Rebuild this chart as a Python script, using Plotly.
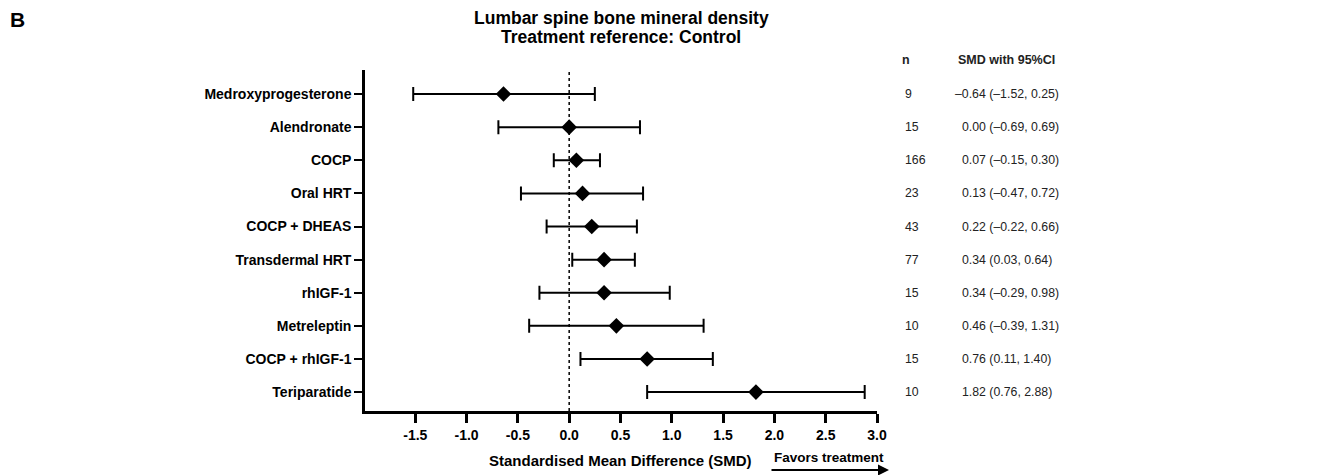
import plotly.graph_objects as go

treatments = ["Medroxyprogesterone", "Alendronate", "COCP", "Oral HRT", "COCP + DHEAS",
              "Transdermal HRT", "rhIGF-1", "Metreleptin", "COCP + rhIGF-1", "Teriparatide"]
smd = [-0.64, 0.00, 0.07, 0.13, 0.22, 0.34, 0.34, 0.46, 0.76, 1.82]
lower = [-1.52, -0.69, -0.15, -0.47, -0.22, 0.03, -0.29, -0.39, 0.11, 0.76]
upper = [0.25, 0.69, 0.30, 0.72, 0.66, 0.64, 0.98, 1.31, 1.40, 2.88]
n_vals = [9, 15, 166, 23, 43, 77, 15, 10, 15, 10]
xticks = [-1.5, -1.0, -0.5, 0.0, 0.5, 1.0, 1.5, 2.0, 2.5, 3.0]

FONT = "Liberation Sans, Arial, sans-serif"
OFF = 8  # page body margin
PL, PR, PT, PB = 365, 877, 70, 411  # plot area in page pixels
W, H = 1344 - OFF, 475 - OFF
L, T = PL - OFF, PT - OFF
R = W - (PR - OFF)
B = H - (PB - OFF)


def px(xp):
    return (xp - PL) / (PR - PL)


def py(yp):
    return (PB - yp) / (PB - PT)


ypos = list(range(len(treatments)))

fig = go.Figure()
fig.add_shape(type="line", xref="x", yref="paper", x0=0, x1=0, y0=0, y1=1,
              line=dict(color="black", width=1.5, dash="dot"), layer="below")
fig.add_trace(go.Scatter(
    x=smd, y=ypos, mode="markers",
    marker=dict(symbol="diamond", size=12, color="black"),
    error_x=dict(type="data", symmetric=False,
                 array=[u - s for u, s in zip(upper, smd)],
                 arrayminus=[s - l for s, l in zip(smd, lower)],
                 color="black", thickness=2, width=7),
    showlegend=False, hoverinfo="skip"))

annotations = []
VS = 12.3
dash_w = 0.556 * VS
fmt = lambda v: ("–" if v < 0 else "") + f"{abs(v):.2f}"
for i, (s, lo, up, n) in enumerate(zip(smd, lower, upper, n_vals)):
    annotations.append(dict(x=px(903), y=i, xref="paper", yref="y", text=str(n),
                            showarrow=False, xanchor="left", font=dict(size=VS, color="#222")))
    x0 = 960 - (dash_w if s < 0 else 0)
    annotations.append(dict(x=px(x0), y=i, xref="paper", yref="y",
                            text=f"{fmt(s)} ({fmt(lo)}, {fmt(up)})",
                            showarrow=False, xanchor="left", font=dict(size=VS, color="#222")))
annotations += [
    dict(x=px(906), y=py(60), xref="paper", yref="paper", text="<b>n</b>", showarrow=False,
         xanchor="center", yanchor="middle", font=dict(size=12.5, color="#222")),
    dict(x=px(1006), y=py(60), xref="paper", yref="paper", text="<b>SMD with 95%CI</b>",
         showarrow=False, xanchor="center", yanchor="middle", font=dict(size=12.5, color="#222")),
    dict(x=px(621), y=py(18), xref="paper", yref="paper",
         text="<b>Lumbar spine bone mineral density</b>", showarrow=False,
         xanchor="center", yanchor="middle", font=dict(size=17.5, color="black")),
    dict(x=px(621), y=py(37), xref="paper", yref="paper",
         text="<b>Treatment reference: Control</b>", showarrow=False,
         xanchor="center", yanchor="middle", font=dict(size=17.5, color="black")),
    dict(x=px(17), y=py(20), xref="paper", yref="paper", text="<b>B</b>", showarrow=False,
         xanchor="center", yanchor="middle", font=dict(size=21, color="black")),
    dict(x=px(620), y=py(460), xref="paper", yref="paper",
         text="<b>Standardised Mean Difference (SMD)</b>", showarrow=False,
         xanchor="center", yanchor="middle", font=dict(size=15, color="black")),
    dict(x=px(829), y=py(458), xref="paper", yref="paper", text="<b>Favors treatment</b>",
         showarrow=False, xanchor="center", yanchor="middle", font=dict(size=13.5, color="black")),
    dict(x=px(889), y=py(470), xref="paper", yref="paper", text="", showarrow=True,
         ax=-119, ay=0, arrowhead=2, arrowsize=1, arrowwidth=2.2, arrowcolor="black"),
]

fig.update_layout(
    width=W, height=H,
    margin=dict(l=L, r=R, t=T, b=B, pad=0),
    plot_bgcolor="white", paper_bgcolor="white",
    font=dict(family=FONT, color="black"),
    annotations=annotations,
    xaxis=dict(range=[-1.99, 3.0], tickvals=xticks,
               ticktext=[f"<b>{v:.1f}</b>" for v in xticks],
               showline=True, linecolor="black", linewidth=2.5,
               ticks="outside", ticklen=9, tickwidth=2.5, tickcolor="black",
               showgrid=False, zeroline=False, tickfont=dict(size=14, color="black")),
    yaxis=dict(range=[9.57, -0.725], tickvals=ypos,
               ticktext=[f"<b>{t}</b>" for t in treatments],
               showline=True, linecolor="black", linewidth=2.5,
               ticks="outside", ticklen=8, tickwidth=2.2, tickcolor="black",
               showgrid=False, zeroline=False, tickfont=dict(size=14, color="black")),
)

fig.write_html("out.html")
